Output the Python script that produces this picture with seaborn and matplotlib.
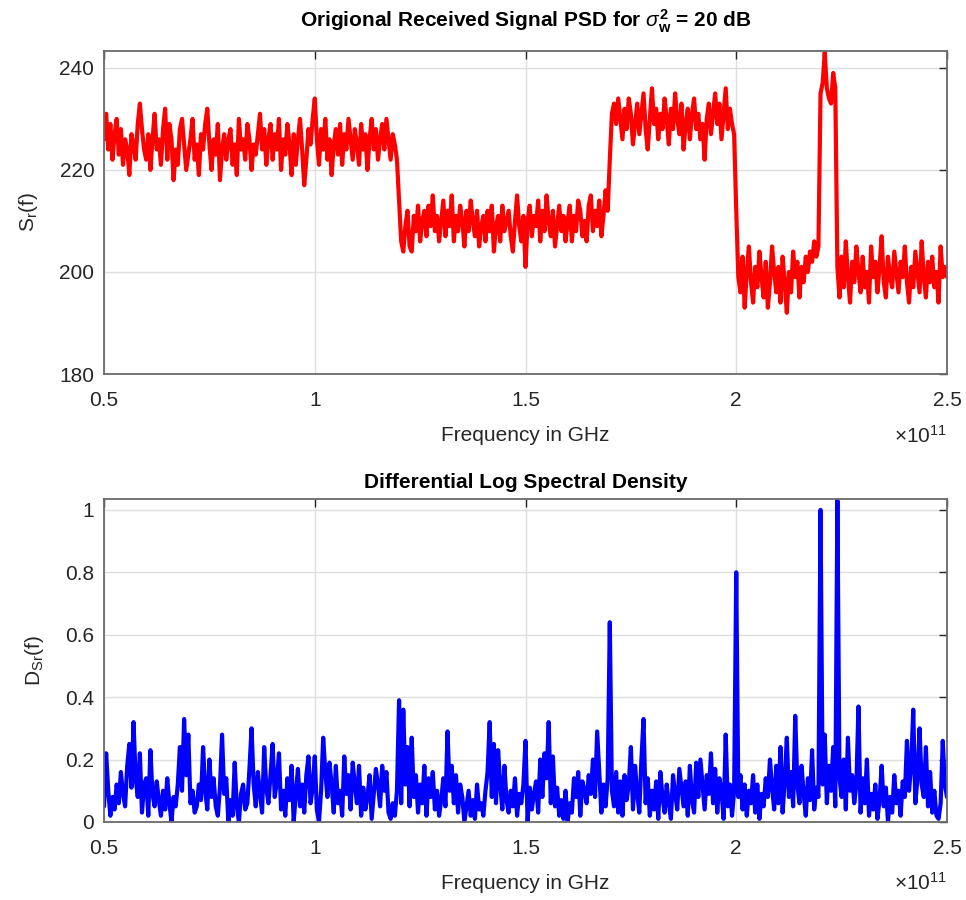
import numpy as np
import pandas as pd
import matplotlib
matplotlib.use("Agg")
import matplotlib.pyplot as plt
import seaborn as sns

# Frequency grid (Hz): 0.5e11 .. 2.5e11 in 0.5 GHz steps
freq_start = 0.5e11
freq_stop = 2.5e11
n_points = 401

# Received signal PSD S_r(f), one row per 0.1e11 Hz
psd_values = [
    226, 231, 224, 229, 222, 227, 230, 223, 228, 221, 226, 224, 219, 227, 225, 222, 229, 233, 228, 224,
    222, 227, 220, 226, 231, 224, 226, 221, 228, 232, 222, 229, 226, 218, 224, 221, 228, 230, 225, 220,
    223, 226, 230, 222, 225, 219, 227, 224, 229, 232, 225, 220, 226, 223, 229, 218, 224, 227, 222, 226,
    228, 221, 225, 219, 230, 224, 226, 222, 229, 226, 220, 225, 223, 227, 231, 224, 228, 221, 226, 229,
    222, 227, 224, 230, 220, 226, 223, 229, 225, 219, 227, 221, 226, 230, 224, 217, 222, 228, 225, 230,
    234, 226, 221, 228, 224, 230, 222, 226, 219, 225, 228, 223, 229, 221, 227, 224, 230, 226, 222, 228,
    225, 221, 229, 224, 227, 220, 226, 230, 224, 228, 222, 226, 229, 224, 230, 226, 222, 227, 225, 222,
    214, 206, 204, 209, 212, 205, 204, 211, 208, 213, 206, 210, 212, 207, 213, 209, 215, 208, 211, 206,
    210, 214, 207, 212, 209, 215, 206, 211, 208, 213, 210, 205, 212, 208, 214, 210, 207, 212, 205, 209,
    211, 206, 212, 208, 213, 204, 209, 211, 206, 213, 208, 210, 212, 207, 204, 210, 215, 209, 206, 211,
    201, 210, 213, 207, 211, 209, 214, 206, 212, 208, 215, 210, 207, 212, 205, 209, 213, 208, 211, 206,
    210, 213, 206, 211, 208, 214, 212, 207, 210, 206, 213, 215, 208, 212, 209, 214, 207, 211, 216, 212,
    222, 231, 233, 229, 234, 230, 226, 232, 228, 234, 231, 225, 229, 233, 227, 231, 235, 228, 224, 230,
    236, 229, 232, 226, 231, 228, 234, 230, 225, 232, 228, 235, 230, 227, 233, 224, 229, 232, 226, 231,
    234, 228, 231, 226, 229, 222, 230, 233, 227, 231, 235, 229, 233, 226, 231, 236, 228, 232, 229, 227,
    212, 199, 196, 203, 193, 200, 205, 198, 194, 201, 197, 204, 199, 195, 202, 193, 198, 205, 200, 196,
    201, 194, 203, 198, 192, 200, 196, 204, 199, 202, 195, 201, 198, 203, 200, 204, 202, 206, 203, 205,
    235, 237, 243, 236, 234, 233, 239, 236, 201, 195, 203, 197, 206, 199, 194, 202, 198, 205, 200, 196,
    203, 197, 200, 194, 205, 199, 202, 196, 201, 207, 198, 195, 203, 199, 197, 204, 200, 196, 202, 199,
    205, 198, 194, 201, 197, 204, 200, 196, 206, 199, 195, 202, 198, 203, 197, 200, 194, 205, 199, 201,
    199,
]

# Differential log spectral density D_Sr(f), one row per 0.1e11 Hz
dlsd_values = [
    0.05, 0.22, 0.10, 0.02, 0.08, 0.04, 0.12, 0.06, 0.16, 0.09, 0.05, 0.18, 0.25, 0.11, 0.32, 0.14, 0.08, 0.22, 0.03, 0.12,
    0.14, 0.02, 0.23, 0.09, 0.05, 0.13, 0.07, 0.02, 0.10, 0.04, 0.14, 0.06, 0.00, 0.08, 0.05, 0.12, 0.24, 0.10, 0.33, 0.15,
    0.28, 0.06, 0.10, 0.03, 0.05, 0.12, 0.07, 0.24, 0.10, 0.04, 0.20, 0.08, 0.14, 0.05, 0.02, 0.11, 0.28, 0.09, 0.14, 0.00,
    0.07, 0.02, 0.19, 0.05, 0.00, 0.09, 0.12, 0.04, 0.06, 0.17, 0.30, 0.12, 0.05, 0.16, 0.09, 0.03, 0.24, 0.11, 0.06, 0.15,
    0.25, 0.08, 0.13, 0.22, 0.04, 0.10, 0.02, 0.14, 0.07, 0.18, 0.00, 0.09, 0.17, 0.05, 0.12, 0.03, 0.15, 0.21, 0.06, 0.11,
    0.21, 0.04, 0.00, 0.10, 0.27, 0.16, 0.08, 0.19, 0.12, 0.03, 0.18, 0.06, 0.10, 0.02, 0.21, 0.09, 0.15, 0.04, 0.19, 0.12,
    0.06, 0.18, 0.02, 0.11, 0.04, 0.08, 0.15, 0.01, 0.09, 0.17, 0.12, 0.05, 0.18, 0.10, 0.16, 0.03, 0.01, 0.06, 0.02, 0.10,
    0.39, 0.06, 0.36, 0.12, 0.24, 0.05, 0.27, 0.08, 0.15, 0.03, 0.12, 0.06, 0.18, 0.02, 0.14, 0.08, 0.16, 0.04, 0.10, 0.02,
    0.07, 0.14, 0.05, 0.29, 0.10, 0.18, 0.06, 0.15, 0.03, 0.12, 0.08, 0.00, 0.05, 0.10, 0.02, 0.07, 0.01, 0.12, 0.04, 0.06,
    0.02, 0.10, 0.16, 0.32, 0.08, 0.25, 0.06, 0.23, 0.12, 0.04, 0.18, 0.07, 0.03, 0.10, 0.05, 0.14, 0.02, 0.09, 0.06, 0.12,
    0.26, 0.00, 0.11, 0.04, 0.09, 0.13, 0.03, 0.20, 0.08, 0.22, 0.14, 0.32, 0.06, 0.21, 0.05, 0.11, 0.02, 0.07, 0.01, 0.10,
    0.00, 0.06, 0.03, 0.14, 0.08, 0.16, 0.02, 0.13, 0.10, 0.06, 0.15, 0.09, 0.20, 0.08, 0.29, 0.16, 0.03, 0.12, 0.05, 0.14,
    0.64, 0.10, 0.05, 0.16, 0.03, 0.13, 0.02, 0.15, 0.07, 0.12, 0.24, 0.04, 0.18, 0.09, 0.03, 0.20, 0.33, 0.06, 0.14, 0.02,
    0.10, 0.04, 0.13, 0.01, 0.16, 0.08, 0.03, 0.12, 0.06, 0.01, 0.15, 0.09, 0.04, 0.17, 0.11, 0.05, 0.13, 0.02, 0.18, 0.07,
    0.03, 0.19, 0.08, 0.20, 0.12, 0.04, 0.15, 0.09, 0.22, 0.06, 0.17, 0.03, 0.14, 0.10, 0.01, 0.28, 0.05, 0.12, 0.02, 0.10,
    0.80, 0.08, 0.15, 0.04, 0.12, 0.02, 0.10, 0.06, 0.15, 0.03, 0.12, 0.01, 0.09, 0.05, 0.14, 0.08, 0.20, 0.11, 0.04, 0.18,
    0.06, 0.24, 0.03, 0.13, 0.27, 0.08, 0.16, 0.05, 0.34, 0.12, 0.06, 0.18, 0.09, 0.02, 0.14, 0.07, 0.23, 0.04, 0.11, 0.08,
    1.00, 0.12, 0.28, 0.06, 0.18, 0.10, 0.24, 0.05, 1.03, 0.14, 0.08, 0.20, 0.04, 0.27, 0.10, 0.15, 0.06, 0.12, 0.37, 0.03,
    0.14, 0.06, 0.20, 0.02, 0.09, 0.04, 0.12, 0.01, 0.07, 0.18, 0.05, 0.11, 0.00, 0.08, 0.03, 0.15, 0.06, 0.10, 0.02, 0.13,
    0.08, 0.26, 0.10, 0.18, 0.36, 0.06, 0.14, 0.30, 0.12, 0.08, 0.24, 0.05, 0.16, 0.03, 0.10, 0.02, 0.01, 0.06, 0.26, 0.12,
    0.08,
]

x_ticks = [0.5e11, 1.0e11, 1.5e11, 2.0e11, 2.5e11]
x_tick_labels = ["0.5", "1", "1.5", "2", "2.5"]
psd_ticks = [180, 200, 220, 240]
dlsd_ticks = [0, 0.2, 0.4, 0.6, 0.8, 1]
dlsd_tick_labels = ["0", "0.2", "0.4", "0.6", "0.8", "1"]

freq = np.linspace(freq_start, freq_stop, n_points)
df = pd.DataFrame({"freq": freq, "psd": psd_values, "dlsd": dlsd_values})

sns.set_theme(style="white")
plt.rcParams["font.family"] = ["Liberation Sans", "DejaVu Sans"]
plt.rcParams["mathtext.fontset"] = "custom"
plt.rcParams["mathtext.rm"] = "Liberation Sans"
plt.rcParams["mathtext.it"] = "Liberation Sans:italic"
plt.rcParams["mathtext.bf"] = "Liberation Sans:bold"

text_col = "#262626"
spine_col = "#6a6a6a"
grid_col = "#dedede"

fig = plt.figure(figsize=(9.66, 9.0), dpi=100)
ax1 = fig.add_axes([0.1077, 0.5844, 0.8726, 0.3589])
ax2 = fig.add_axes([0.1077, 0.0867, 0.8726, 0.3589])

sns.lineplot(data=df, x="freq", y="psd", ax=ax1, color=(1, 0, 0),
             lw=3.0, estimator=None, sort=False)
sns.lineplot(data=df, x="freq", y="dlsd", ax=ax2, color=(0, 0, 1),
             lw=3.0, estimator=None, sort=False)

for ax in (ax1, ax2):
    ax.set_xlim(freq_start, freq_stop)
    ax.set_xticks(x_ticks)
    ax.set_xticklabels(x_tick_labels)
    ax.grid(True, color=grid_col, lw=1.0)
    ax.set_axisbelow(True)
    for s in ax.spines.values():
        s.set_color(spine_col)
        s.set_linewidth(1.3)
    ax.tick_params(direction="in", length=6, width=1.0, colors=text_col,
                   labelsize=15, top=True, right=True)
    ax.tick_params(axis="x", pad=12)
    ax.tick_params(axis="y", pad=7)
    ax.set_xlabel("Frequency in GHz", fontsize=15, color=text_col, labelpad=12)
    ax.text(1.0, -0.19, r"$\times\mathregular{10^{11}}$", transform=ax.transAxes,
            ha="right", va="center", fontsize=15, color=text_col)

ax1.set_ylim(180, 243.3)
ax1.set_yticks(psd_ticks)
ax1.set_ylabel(r"S$_\mathregular{r}$(f)", fontsize=15, color=text_col, labelpad=14)
ax1.set_title(r"Origional Received Signal PSD for $\sigma_\mathbf{w}^\mathbf{2}$ = 20 dB",
              fontsize=15, fontweight="bold", color="black", pad=17)

ax2.set_ylim(0, 1.035)
ax2.set_yticks(dlsd_ticks)
ax2.set_yticklabels(dlsd_tick_labels)
ax2.set_ylabel(r"D$_\mathregular{Sr}$(f)", fontsize=15, color=text_col, labelpad=14)
ax2.set_title("Differential Log Spectral Density", fontsize=15,
              fontweight="bold", color="black", pad=8)

fig.savefig("out.png", dpi=100, facecolor="white")
